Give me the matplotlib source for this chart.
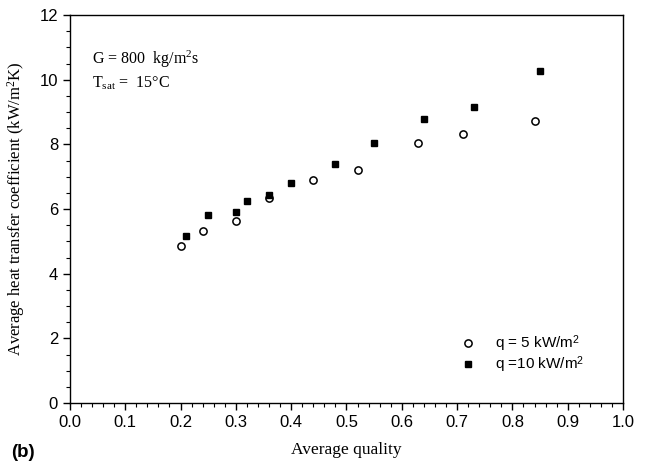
import matplotlib
matplotlib.use("Agg")
import matplotlib.pyplot as plt
from matplotlib.ticker import MultipleLocator

# --- data ---
q5_x = [0.20, 0.24, 0.30, 0.36, 0.44, 0.52, 0.63, 0.71, 0.84]
q5_h = [4.87, 5.32, 5.64, 6.35, 6.90, 7.21, 8.05, 8.32, 8.72]
q10_x = [0.21, 0.25, 0.30, 0.32, 0.36, 0.40, 0.48, 0.55, 0.64, 0.73, 0.85]
q10_h = [5.18, 5.80, 5.90, 6.24, 6.43, 6.80, 7.38, 8.03, 8.79, 9.14, 10.28]

series_labels = [r"q = 5 kW/m$^{\mathsf{2}}$", r"q =10 kW/m$^{\mathsf{2}}$"]

sans = 'Liberation Sans'
serif = 'Liberation Serif'
plt.rcParams['mathtext.fontset'] = 'custom'
plt.rcParams['mathtext.rm'] = serif
plt.rcParams['mathtext.it'] = serif + ':italic'
plt.rcParams['mathtext.sf'] = sans

fig = plt.figure(figsize=(6.47, 4.65), dpi=100)
ax = fig.add_axes([0.108, 0.1333, 0.855, 0.8344])

ax.plot(q5_x, q5_h, 'o', ms=5.2, mfc='white', mec='black', mew=1.1,
        linestyle='none', label=series_labels[0])
ax.plot(q10_x, q10_h, 's', ms=5.0, mfc='black', mec='black',
        linestyle='none', label=series_labels[1])

ax.set_xlim(0, 1.0)
ax.set_ylim(0, 12)
ax.xaxis.set_major_locator(MultipleLocator(0.1))
ax.xaxis.set_minor_locator(MultipleLocator(0.02))
ax.yaxis.set_major_locator(MultipleLocator(2))
ax.yaxis.set_minor_locator(MultipleLocator(0.5))
ax.tick_params(which='major', direction='out', length=5, width=1, labelsize=12)
ax.tick_params(which='minor', direction='out', length=3, width=0.8)
ax.set_xticklabels([f"{v:.1f}" for v in ax.get_xticks()], fontfamily=sans)
ax.set_yticks([0, 2, 4, 6, 8, 10, 12])
ax.set_yticklabels(["0", "2", "4", "6", "8", "10", "12"], fontfamily=sans)
for s in ax.spines.values():
    s.set_linewidth(1.0)

ax.set_xlabel("Average quality", fontfamily=serif, fontsize=12.5, labelpad=9)
ax.set_ylabel(r"Average heat transfer coefficient (kW/m$^2$K)",
              fontfamily=serif, fontsize=12, labelpad=9)

ax.text(0.04, 0.885, r"G = 800  kg/m$^2$s", transform=ax.transAxes,
        fontfamily=serif, fontsize=11.5, va='center')
ax.text(0.04, 0.823, r"T$_{\rm sat}$ =  15°C", transform=ax.transAxes,
        fontfamily=serif, fontsize=11.5, va='center')

leg = ax.legend(loc='lower left', bbox_to_anchor=(0.672, 0.045), frameon=False,
                prop={'family': sans, 'size': 11}, handletextpad=0.8,
                labelspacing=0.0, borderpad=0.2)

fig.text(0.017, 0.017, "(b)", fontfamily=sans, fontweight='bold', fontsize=13.5)

fig.savefig("out.png", dpi=100)
